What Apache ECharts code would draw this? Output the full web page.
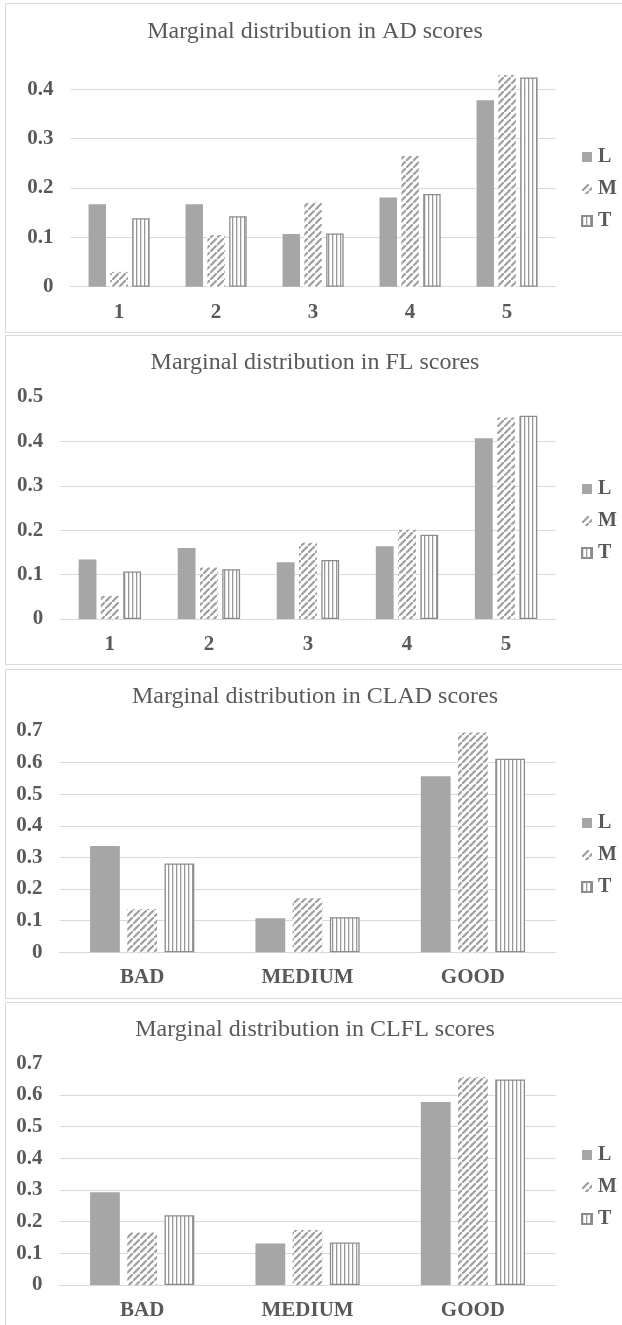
<!DOCTYPE html>
<html>
<head>
<meta charset="utf-8">
<script src="https://cdn.jsdelivr.net/npm/echarts@6/dist/echarts.min.js"></script>
<style>
html,body{margin:0;padding:0;background:#fff;}
#c{width:622px;height:1325px;}
</style>
</head>
<body>
<div id="c"></div>
<script>
// ---- data ----
const titles = ['Marginal distribution in AD scores','Marginal distribution in FL scores','Marginal distribution in CLAD scores','Marginal distribution in CLFL scores'];
const seriesNames = ['L','M','T'];
const scoreCats = ['1','2','3','4','5'];
const levelCats = ['BAD','MEDIUM','GOOD'];
const adL = [0.167,0.167,0.107,0.181,0.378];
const adM = [0.030,0.105,0.170,0.265,0.429];
const adT = [0.139,0.143,0.108,0.188,0.424];
const flL = [0.134,0.160,0.128,0.164,0.407];
const flM = [0.052,0.116,0.172,0.201,0.454];
const flT = [0.107,0.112,0.133,0.190,0.458];
const cladL = [0.336,0.108,0.557];
const cladM = [0.137,0.171,0.695];
const cladT = [0.281,0.111,0.612];
const clflL = [0.293,0.131,0.578];
const clflM = [0.166,0.174,0.657];
const clflT = [0.220,0.134,0.649];
const yMaxes = [0.45,0.5,0.7,0.7];
const yInterval = 0.1;

// ---- layout (pixels) ----
const panels = [
  {cats:scoreCats, L:adL, M:adM, T:adT, box:[5.5,3.5,619,329], titleY:32, gridTop:64.7, gridBottom:286.7, gridLeft:70.6, legendTop:147},
  {cats:scoreCats, L:flL, M:flM, T:flT, box:[5.5,335.5,619,329], titleY:363, gridTop:397, gridBottom:619, gridLeft:60.3, legendTop:479},
  {cats:levelCats, L:cladL, M:cladM, T:cladT, box:[5.5,669.5,619,329], titleY:697, gridTop:731, gridBottom:952.3, gridLeft:59.5, legendTop:813},
  {cats:levelCats, L:clflL, M:clflM, T:clflT, box:[5.5,1002.5,619,340], titleY:1030, gridTop:1063.3, gridBottom:1285, gridLeft:59.5, legendTop:1145}
];
const gridRight = 555.6;
const W = 622, H = 1325;

function hatchPattern(){
  const s = 7;
  const c = document.createElement('canvas'); c.width = s; c.height = s;
  const g = c.getContext('2d');
  g.fillStyle = '#fff'; g.fillRect(0,0,s,s);
  g.strokeStyle = '#9f9f9f'; g.lineWidth = 2.2;
  g.beginPath();
  g.moveTo(-1,s+1); g.lineTo(s+1,-1);
  g.moveTo(-s-1,1); g.lineTo(1,-s-1);
  g.moveTo(s-1,2*s+1); g.lineTo(2*s+1,s-1);
  g.stroke();
  return {image:c, repeat:'repeat'};
}
function stripePattern(){
  const c = document.createElement('canvas'); c.width = 4; c.height = 4;
  const g = c.getContext('2d');
  g.fillStyle = '#fff'; g.fillRect(0,0,4,4);
  g.fillStyle = '#999999'; g.fillRect(0,0,1.3,4);
  return {image:c, repeat:'repeat'};
}
const colL = '#a6a6a6';
const colM = hatchPattern();
const colT = stripePattern();

const txt = '#595959';
const font = '"Liberation Serif", "Times New Roman", serif';

const option = {
  animation:false,
  backgroundColor:'#fff',
  title:[], legend:[], grid:[], xAxis:[], yAxis:[], series:[], graphic:[]
};

panels.forEach((p,i)=>{
  option.graphic.push({type:'rect', shape:{x:p.box[0], y:p.box[1], width:p.box[2], height:p.box[3]}, style:{fill:'none', stroke:'#d9d9d9', lineWidth:1}, silent:true, z:-1});
  option.title.push({text:titles[i], left:315, textAlign:'center', top:p.titleY-12, padding:0,
    textStyle:{fontFamily:font, fontWeight:'normal', fontSize:24, lineHeight:24, color:txt}});
  option.legend.push({orient:'vertical', left:581, top:p.legendTop, padding:0, itemGap:12, itemWidth:10, itemHeight:10,
    icon:'rect', data:seriesNames, selectedMode:false,
    textStyle:{fontFamily:font, fontWeight:'bold', fontSize:20, lineHeight:20, color:txt, padding:[0,0,0,1]}});
  option.grid.push({left:p.gridLeft, width:gridRight-p.gridLeft, top:p.gridTop, height:p.gridBottom-p.gridTop, containLabel:false});
  option.xAxis.push({type:'category', gridIndex:i, data:p.cats,
    axisTick:{show:false}, axisLine:{lineStyle:{color:'#d9d9d9', width:1}},
    axisLabel:{margin:15, fontFamily:font, fontWeight:'bold', fontSize:21, color:txt}});
  option.yAxis.push({type:'value', gridIndex:i, min:0, max:yMaxes[i], interval:yInterval,
    axisLine:{show:false}, axisTick:{show:false},
    splitLine:{show:true, showMaxLine:false, lineStyle:{color:'#d9d9d9', width:1}},
    axisLabel:{margin:17, showMaxLabel: yMaxes[i] !== 0.7 && yMaxes[i] !== 0.5 ? false : true, fontFamily:font, fontWeight:'bold', fontSize:21, color:txt}});
  const common = {type:'bar', xAxisIndex:i, yAxisIndex:i, barGap:'25%', barCategoryGap:'37%'};
  option.series.push(Object.assign({name:'L', data:p.L, itemStyle:{color:colL}}, common));
  option.series.push(Object.assign({name:'M', data:p.M, itemStyle:{color:colM}}, common));
  option.series.push(Object.assign({name:'T', data:p.T, itemStyle:{color:colT, borderColor:'#8c8c8c', borderWidth:1.3}}, common));
});

const chart = echarts.init(document.getElementById('c'), null, {renderer:'canvas', width:W, height:H});
chart.setOption(option);
</script>
</body>
</html>
